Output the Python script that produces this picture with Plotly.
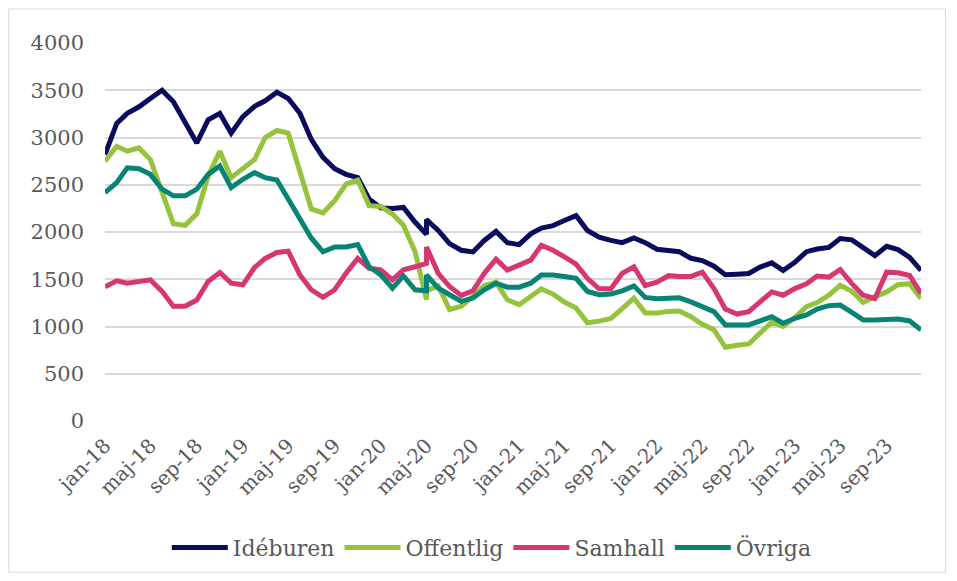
import pandas as pd
import plotly.graph_objects as go

# monthly data jan-18 .. dec-23, may-20 appears twice (break in the series)
months = [d.strftime("%Y-%m-%d") for d in pd.date_range("2018-01-01", "2023-12-01", freq="MS")]
months.insert(months.index("2020-05-01"), "2020-05-01")

ideburen = [2820, 3150, 3255, 3325, 3413, 3500, 3378, 3170, 2942, 3186, 3255, 3046,
            3221, 3330, 3388, 3480, 3413, 3256, 2980, 2790, 2670, 2610, 2575, 2350,
            2255, 2250, 2260, 2103, 1975, 2131, 2016, 1877, 1807, 1789, 1911, 2006, 1887,
            1866, 1981, 2041, 2068, 2121, 2173, 2016, 1946, 1911, 1887, 1936, 1887,
            1817, 1802, 1792, 1722, 1698, 1638, 1547, 1554, 1561, 1628, 1673, 1593,
            1680, 1792, 1820, 1837, 1931, 1917, 1837, 1750, 1848, 1813, 1732, 1593]

offentlig = [2750, 2907, 2855, 2890, 2767, 2420, 2087, 2070, 2192, 2593, 2855, 2575,
             2663, 2767, 3000, 3074, 3046, 2635, 2244, 2202, 2331, 2506, 2550, 2279,
             2270, 2190, 2072, 1789, 1283, 1380, 1430, 1179, 1214, 1318, 1433, 1468, 1283,
             1231, 1318, 1398, 1343, 1259, 1196, 1039, 1057, 1085, 1190, 1301, 1144,
             1144, 1160, 1164, 1104, 1024, 965, 780, 801, 815, 930, 1045, 1000,
             1094, 1209, 1254, 1331, 1436, 1373, 1254, 1314, 1366, 1443, 1453, 1296]

samhall = [1420, 1483, 1459, 1476, 1494, 1372, 1215, 1215, 1280, 1476, 1571, 1459,
           1441, 1625, 1720, 1783, 1797, 1546, 1389, 1309, 1389, 1563, 1720, 1616,
           1600, 1494, 1600, 1632, 1667, 1842, 1563, 1423, 1329, 1378, 1563, 1713, 1597,
           1650, 1702, 1859, 1807, 1737, 1660, 1510, 1399, 1399, 1563, 1632, 1434,
           1468, 1538, 1530, 1530, 1575, 1401, 1185, 1132, 1157, 1261, 1366, 1331,
           1401, 1453, 1534, 1523, 1603, 1453, 1331, 1296, 1575, 1568, 1540, 1349]

ovriga = [2418, 2523, 2680, 2670, 2610, 2453, 2383, 2383, 2453, 2610, 2698, 2470,
          2558, 2628, 2575, 2551, 2349, 2139, 1937, 1790, 1842, 1842, 1867, 1633,
          1546, 1406, 1535, 1388, 1378, 1545, 1406, 1336, 1266, 1301, 1388, 1458, 1416,
          1416, 1458, 1545, 1545, 1528, 1510, 1371, 1336, 1343, 1378, 1430, 1308,
          1294, 1296, 1303, 1261, 1209, 1157, 1017, 1017, 1017, 1059, 1104, 1035,
          1087, 1122, 1185, 1220, 1227, 1150, 1070, 1070, 1070, 1080, 1059, 965]

tick_dates = ["2018-01-01", "2018-05-01", "2018-09-01", "2019-01-01", "2019-05-01", "2019-09-01",
              "2020-01-01", "2020-05-01", "2020-09-01", "2021-01-01", "2021-05-01", "2021-09-01",
              "2022-01-01", "2022-05-01", "2022-09-01", "2023-01-01", "2023-05-01", "2023-09-01"]
tick_labels = ["jan-18", "maj-18", "sep-18", "jan-19", "maj-19", "sep-19",
               "jan-20", "maj-20", "sep-20", "jan-21", "maj-21", "sep-21",
               "jan-22", "maj-22", "sep-22", "jan-23", "maj-23", "sep-23"]

series = [("Idéburen", ideburen, "#0b0b5e"),
          ("Offentlig", offentlig, "#95c33d"),
          ("Samhall", samhall, "#d63671"),
          ("Övriga", ovriga, "#078474")]

font = "DejaVu Serif"
grey = "#595959"

fig = go.Figure()
for name, vals, col in series:
    fig.add_trace(go.Scatter(x=months, y=vals, name=name, mode="lines",
                             line=dict(color=col, width=5)))

# page has an 8px body margin, so the figure is a bit smaller than the window
fig.update_layout(
    width=949, height=573,
    margin=dict(l=97, r=36, t=35, b=157),
    paper_bgcolor="white", plot_bgcolor="white",
    font=dict(family=font, size=20, color=grey),
    showlegend=True,
    legend=dict(orientation="h", x=0.474, xanchor="center", y=-0.335, yanchor="middle",
                font=dict(family=font, size=22, color=grey), itemwidth=56),
)
fig.update_xaxes(type="date", range=["2018-01-01", "2023-12-01"],
                 tickmode="array", tickvals=tick_dates, ticktext=tick_labels,
                 tickangle=-45, showgrid=False, showline=False, ticks="",
                 ticklabelstandoff=8, tickfont=dict(family=font, size=20, color=grey))
fig.update_yaxes(range=[0, 4000], dtick=500, showgrid=True, gridcolor="#d9d9d9",
                 gridwidth=2, zeroline=False, showline=False, ticks="",
                 ticklabelstandoff=20, tickfont=dict(family=font, size=21, color=grey))

fig.add_shape(type="rect", xref="paper", yref="paper",
              x0=-0.118, x1=1.03, y0=-0.40, y1=1.09,
              line=dict(color="#d9d9d9", width=1), layer="below")

fig.write_html("out.html")
